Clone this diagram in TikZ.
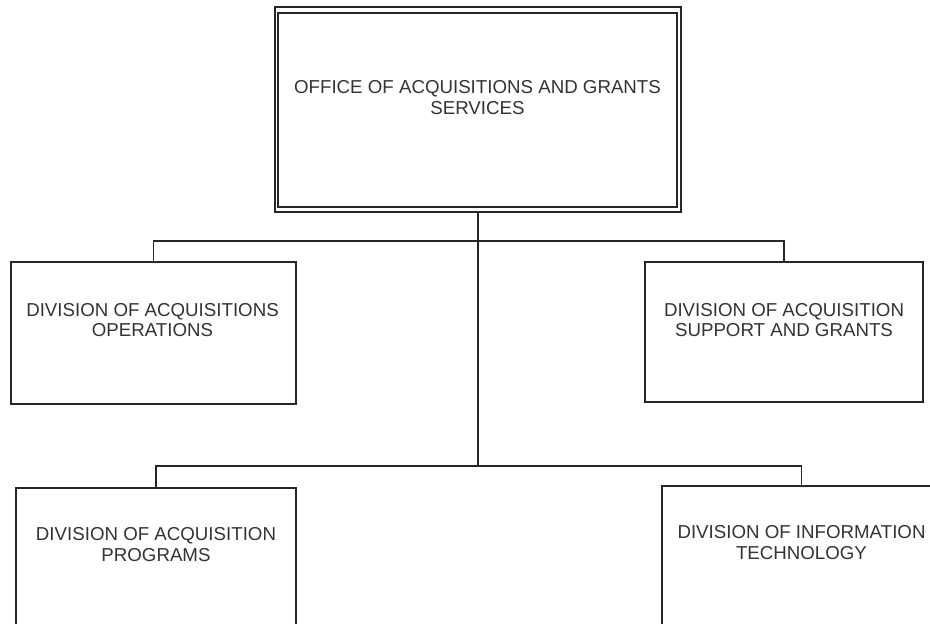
\documentclass[tikz,border=0pt]{standalone}
\usepackage{fontspec}
\setmainfont{Liberation Sans}
\begin{document}
\begin{tikzpicture}[x=1pt,y=-1pt,
    line width=1.4pt,
    orgbox/.style={draw=black!85, rectangle, inner sep=0pt},
    orgtext/.style={align=center, inner sep=0pt, text=black!80,
      font=\fontsize{18.7}{20.5}\selectfont},
    link/.style={draw=black!85, line cap=rect}]
  \useasboundingbox (0,0) rectangle (930,624);
  \clip (0,0) rectangle (930,624);

  % head office, drawn with a double frame
  \node[orgbox, minimum width=406pt, minimum height=205pt] (office) at (478,109.5) {};
  \node[orgbox, minimum width=399pt, minimum height=194pt] (officein) at (477.5,110) {};
  \node[orgtext] (officet) at (477.5,97.5) {OFFICE OF ACQUISITIONS AND GRANTS\\SERVICES};

  % divisions
  \node[orgbox, minimum width=285pt, minimum height=142pt] (ops) at (153.5,333) {};
  \node[orgtext] (opst) at (152.5,320) {DIVISION OF ACQUISITIONS\\OPERATIONS};

  \node[orgbox, minimum width=278pt, minimum height=140pt] (sup) at (784,332) {};
  \node[orgtext] (supt) at (784,320) {DIVISION OF ACQUISITION\\SUPPORT AND GRANTS};

  \node[orgbox, minimum width=280pt, minimum height=152pt] (prog) at (156,564) {};
  \node[orgtext] (progt) at (156,544.5) {DIVISION OF ACQUISITION\\PROGRAMS};

  \node[orgbox, minimum width=279pt, minimum height=154pt] (it) at (801.5,563) {};
  \node[orgtext] (itt) at (801.5,542.5) {DIVISION OF INFORMATION\\TECHNOLOGY};

  % junctions on the trunk
  \coordinate (upper) at (478,241);
  \coordinate (lower) at (478,466);

  % connectors
  \draw[link] (office.south) -- (lower);
  \draw[link] (ops.north) -- (ops.north |- upper) -- (sup.north |- upper) -- (sup.north);
  \draw[link] (prog.north) -- (prog.north |- lower) -- (it.north |- lower) -- (it.north);
\end{tikzpicture}
\end{document}
